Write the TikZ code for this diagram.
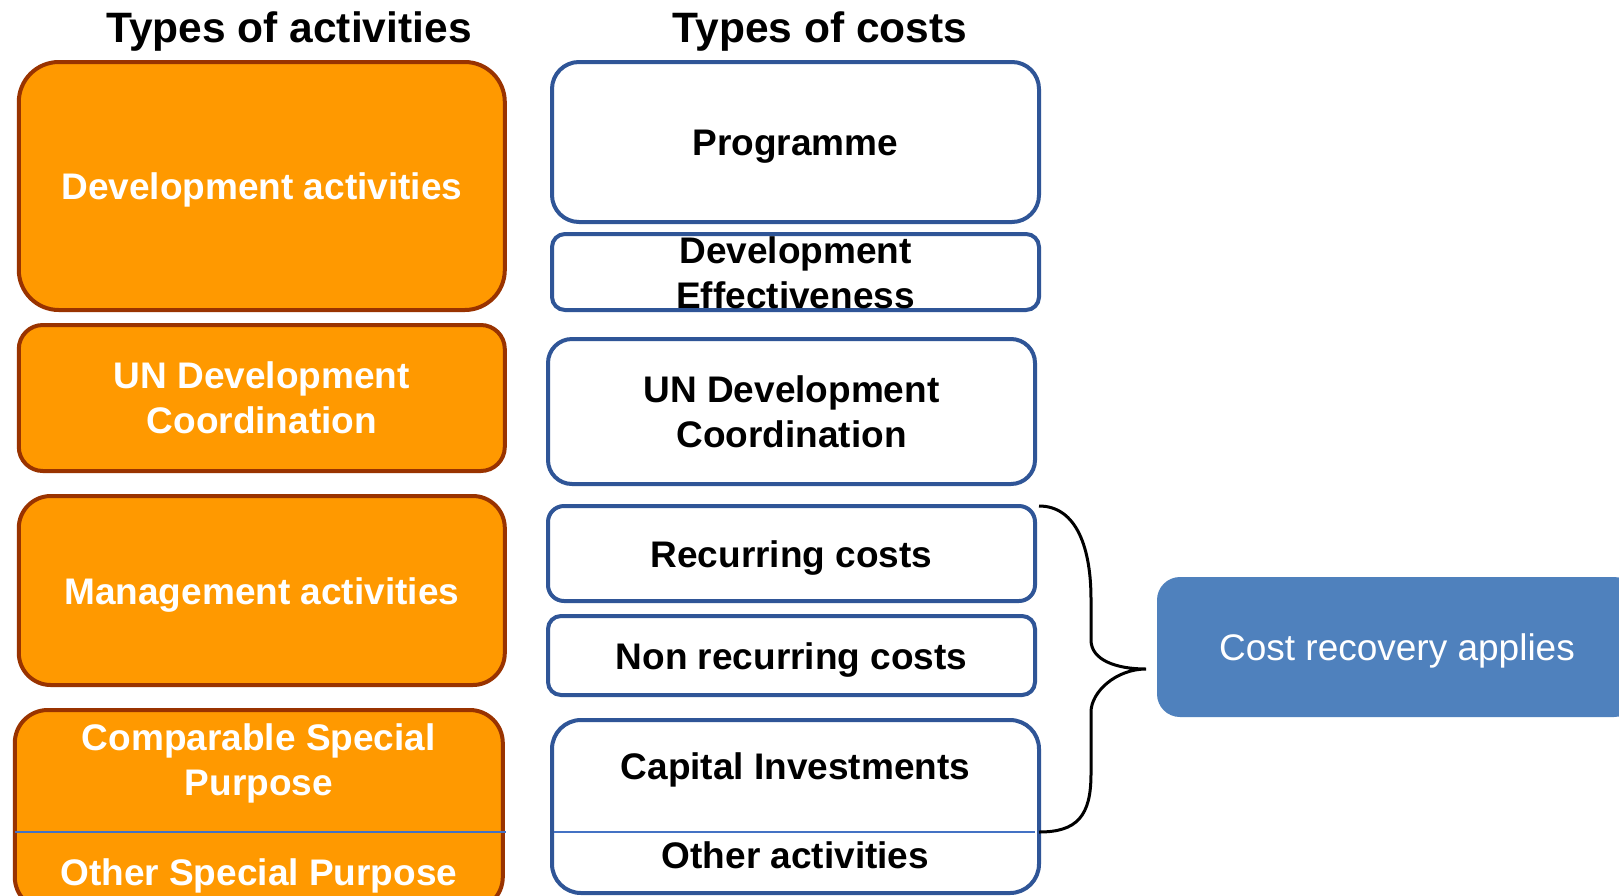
\documentclass[tikz,border=0pt]{standalone}
\usepackage{fontspec}
\setmainfont{Liberation Sans}
\usetikzlibrary{shapes,arrows,fit,positioning}
\definecolor{actfill}{RGB}{255,153,0}
\definecolor{actline}{RGB}{153,51,0}
\definecolor{costline}{RGB}{47,85,151}
\definecolor{divblue}{RGB}{68,114,196}
\definecolor{crfill}{RGB}{79,129,189}
\newcommand\boxfont{\fontsize{37}{45}\selectfont\bfseries}
\def\UNDC{UN Development\\Coordination}

\begin{document}
\begin{tikzpicture}[x=1pt,y=-1pt,% one unit is one pixel, y runs downwards
			every node/.style={
				align=center,	% so that "\\" breaks the line
				inner sep=0pt,
				outer sep=0pt
			},
			oneline/.style={text height=27pt,text depth=0pt},	% centre the capitals
			title/.style={font=\fontsize{42.5}{48}\selectfont\bfseries,text height=30pt,text depth=0pt},
			actbox/.style={rectangle,rounded corners=#1,draw=actline,line width=4pt,fill=actfill,text=white,font=\boxfont,minimum width=486pt},
			actbox/.default=30pt,
			acttext/.style={text=white,font=\boxfont},
			costbox/.style={rectangle,rounded corners=#1,draw=costline,line width=4pt,fill=white,font=\boxfont,minimum width=487pt},
			costbox/.default=25pt,
			costtext/.style={font=\boxfont},
			divline/.style={draw=divblue,line width=1.5pt},
			crbox/.style={rectangle,rounded corners=23pt,fill=crfill,text=white,font=\fontsize{37}{45}\selectfont,minimum width=480pt,minimum height=140pt},
			brace/.style={draw=black,line width=3pt}
		]
		\clip (0,0) rectangle (1619,895);
		\fill[white] (0,0) rectangle (1619,895);
		% titles
		\node[title](T1) at (289,27) {Types of activities};
		\node[title](T2) at (820,27) {Types of costs};
		% types of activities
		\node[actbox=40pt,oneline,minimum height=248pt](A1) at (261.8,186) {Development activities};
		\node[actbox=24pt,minimum height=146pt](A2)[below=15pt of A1]{\UNDC};
		\node[actbox=32pt,oneline,minimum height=189pt](A3)[below=25pt of A2]{Management activities};
		\node[actbox=33pt,minimum height=200pt,minimum width=488pt](A4)[below=25pt of A3,xshift=-3pt]{};
		\node[acttext](A4a) at ([yshift=-53pt]A4.north) {Comparable Special\\Purpose};
		\node[acttext,oneline](A4b) at ([yshift=-162pt]A4.north) {Other Special Purpose};
		\draw[divline] ([yshift=-122pt]A4.north west) -- ([yshift=-122pt,xshift=3pt]A4.north east);
		% types of costs
		\node[costbox=27pt,oneline,minimum height=160pt](C1) at (795.5,142) {Programme};
		\node[costbox=13pt,minimum height=76pt,label={[costtext,yshift=-1pt]center:{Development\\Effectiveness}}](C2)[below=12pt of C1]{};
		\node[costbox=24pt,minimum height=145pt](C3)[below=29pt of C2,xshift=-4pt]{\UNDC};
		\node[costbox=16pt,oneline,minimum height=95pt](C4)[below=22pt of C3]{Recurring costs};
		\node[costbox=13pt,oneline,minimum height=79pt](C5)[below=15pt of C4]{Non recurring costs};
		\node[costbox=29pt,minimum height=173pt](C6)[below=25pt of C5,xshift=4pt]{};
		\node[costtext,oneline](C6a) at ([yshift=-46pt]C6.north) {Capital Investments};
		\node[costtext,oneline](C6b) at ([yshift=-135pt]C6.north) {Other activities};
		\draw[divline] ([yshift=-112pt,xshift=2pt]C6.north west) -- ([yshift=-112pt,xshift=-4pt]C6.north east);
		% cost recovery
		\node[crbox,oneline](CR) at (1397,647) {Cost recovery applies};
		\coordinate (Btop) at ([xshift=4pt]C4.north east);
		\coordinate (Bbot) at ([yshift=-112pt]C6.north east);
		\coordinate (Btip) at (1146,669);
		\path[brace]
		(Btop) .. controls +(38,0) and +(0,-50) .. (1091,599) -- (1091,640)
		.. controls +(0,20) and +(-30,0) .. (Btip)
		.. controls +(-30,0) and +(0,-20) .. (1091,712) -- (1091,774)
		.. controls +(0,42) and +(38,0) .. (Bbot)
		;
	\end{tikzpicture}
\end{document}
